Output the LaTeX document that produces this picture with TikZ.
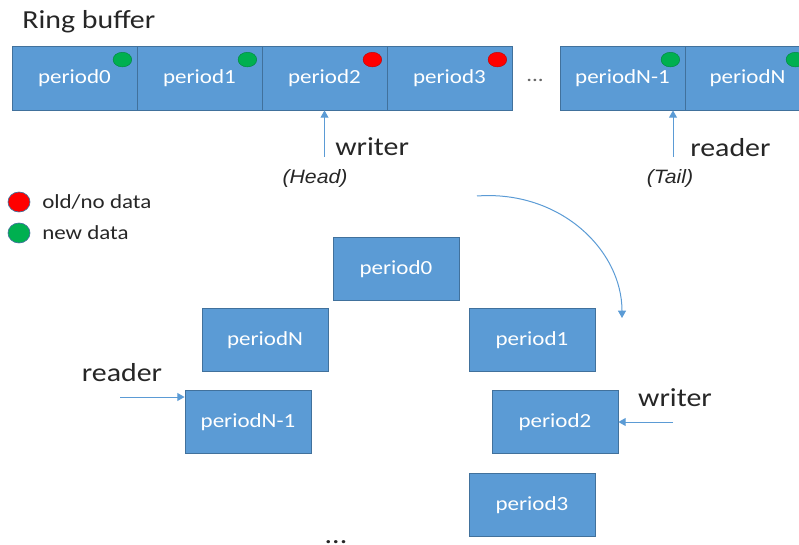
\documentclass[tikz,border=0pt]{standalone}
\usepackage{fontspec}
\setmainfont{Carlito}[FakeStretch=1.15]
\newfontfamily\tagfont{Liberation Sans}[FakeStretch=1.1]
\usetikzlibrary{arrows.meta,calc}
\definecolor{cellblue}{HTML}{5B9BD5}
\definecolor{celledge}{HTML}{41719C}
\definecolor{olddot}{HTML}{FF0000}
\definecolor{newdot}{HTML}{00B050}
\definecolor{ink}{HTML}{262626}

\tikzset{
	cell/.style={draw=celledge, fill=cellblue, line width=0.6pt, inner sep=0pt,
		minimum width=93.75pt, minimum height=48pt, text=white,
		font=\fontsize{15}{18}\selectfont},
	ringbox/.style={cell, minimum width=94.5pt, minimum height=47.25pt},
	ptr/.style={draw=cellblue, line width=0.75pt, -{Triangle[width=6pt,length=5.5pt]}},
	bigtxt/.style={text=ink, inner sep=0pt, font=\fontsize{19.5}{22}\selectfont},
	smalltxt/.style={text=ink, inner sep=0pt, font=\fontsize{15}{18}\selectfont},
	tagtxt/.style={text=ink, inner sep=0pt, font=\tagfont\itshape\fontsize{14.5}{17}\selectfont},
}

\begin{document}
\begin{tikzpicture}[x=0.75pt, y=-0.75pt]
			%%%%% FRAME %%%%%
			\useasboundingbox (0,0) rectangle (799,545);
			\clip (0,0) rectangle (799,545);
			
			%%%%% LINEAR VIEW %%%%%
			\node[bigtxt, anchor=west] (title) at (22,22) {Ring buffer};
			
			\node[cell] (c0) at (74.5,78) {period0};
			\node[cell] (c1) at (199.5,78) {period1};
			\node[cell] (c2) at (324.5,78) {period2};
			\node[cell] (c3) at (449.5,78) {period3};
			\node[smalltxt, text=black!60] (gap) at (535,80) {...};
			\node[cell] (cN1) at (622.5,78) {periodN-1};
			\node[cell] (cN) at (747.5,78) {periodN};
			
			\foreach \n/\c in {c0/newdot, c1/newdot, c2/olddot, c3/olddot, cN1/newdot, cN/newdot}
				\filldraw[fill=\c, draw=\c!75!black, line width=0.3pt] ($(\n.north east)+(-15,14)$) ellipse [x radius=7pt, y radius=5.5pt];
			
			\coordinate (wrfoot) at (324.5,157);
			\draw[ptr] (wrfoot) -- (c2.south);
			\node[bigtxt, anchor=west] (wrtop) at (335,147) {writer};
			\node[tagtxt] (head) at (315,178) {(Head)};
			
			\coordinate (rdfoot) at (673,157);
			\draw[ptr] (rdfoot) -- (rdfoot |- cN1.south);
			\node[bigtxt, anchor=west] (rdtop) at (690,148) {reader};
			\node[tagtxt] (tail) at (670,178) {(Tail)};
			
			%%%%% LEGEND %%%%%
			\filldraw[fill=olddot, draw=celledge, line width=0.5pt] (19,202) ellipse [x radius=8.25pt, y radius=7.5pt];
			\node[smalltxt, anchor=west] (oldkey) at (42,202) {old/no data};
			\filldraw[fill=newdot, draw=celledge, line width=0.5pt] (19,233) ellipse [x radius=8.25pt, y radius=7.5pt];
			\node[smalltxt, anchor=west] (newkey) at (42,233) {new data};
			
			%%%%% RING VIEW %%%%%
			\node[ringbox] (b0) at (396,269) {period0};
			\node[ringbox] (bN) at (265,340) {periodN};
			\node[ringbox] (b1) at (532,340) {period1};
			\node[ringbox] (bN1) at (248,422) {periodN-1};
			\node[ringbox] (b2) at (555,422) {period2};
			\node[ringbox] (b3) at (532,505) {period3};
			\node[bigtxt, anchor=base] (more) at (336,543) {...};
			
			\coordinate (turnin) at (477,196);
			\coordinate (turnout) at (622,318);
			\draw[ptr] (turnin) .. controls (560,190) and (622,250) .. (turnout);
			
			\node[bigtxt] (rdlow) at (122,373) {reader};
			\coordinate (rdin) at (120,397);
			\draw[ptr] (rdin) -- (rdin -| bN1.west);
			
			\node[bigtxt] (wrlow) at (675,398) {writer};
			\coordinate (wrin) at (673,422);
			\draw[ptr] (wrin) -- (b2.east);
			
\end{tikzpicture}
\end{document}
